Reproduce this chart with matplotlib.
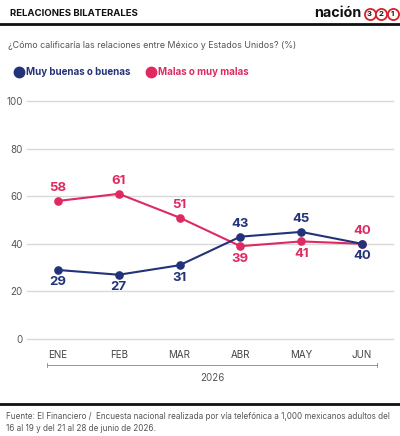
import matplotlib
matplotlib.use("Agg")
import matplotlib.pyplot as plt
from matplotlib.lines import Line2D

plt.rcParams['font.family'] = ['Inter', 'DejaVu Sans', 'Noto Sans CJK JP']

months = ["ENE", "FEB", "MAR", "ABR", "MAY", "JUN"]
buenas = [29, 27, 31, 43, 45, 40]
malas = [58, 61, 51, 39, 41, 40]
yticks = [0, 20, 40, 60, 80, 100]
# label above (+1) or below (-1)
buenas_pos = [-1, -1, -1, 1, 1, -1]
malas_pos = [1, 1, 1, -1, -1, 1]
logo_digits = ["3", "2", "1"]

NAVY = "#23337a"
PINK = "#df2a61"

fig = plt.figure(figsize=(4.0, 4.36), dpi=100)
W, H = 400, 436

def fy(py):
    return 1 - py / H

ax = fig.add_axes([27 / W, fy(339), (393 - 27) / W, (339 - 101) / H])
x = list(range(len(months)))
ax.set_xlim(-0.51, 5.51)
ax.set_ylim(0, 100)
for v in yticks:
    ax.axhline(v, color="#d9d9d9", lw=1.0, zorder=0, clip_on=False)
ax.plot(x, malas, color=PINK, lw=1.5, marker="o", ms=5.2, zorder=3, clip_on=False)
ax.plot(x, buenas, color=NAVY, lw=1.5, marker="o", ms=5.2, zorder=4, clip_on=False)

for xi, v, p in zip(x, malas, malas_pos):
    ax.annotate(str(v), (xi, v), xytext=(0, 9 * p), textcoords="offset points",
                ha="center", va="center", color=PINK, fontsize=9.5, fontweight="bold")
for xi, v, p in zip(x, buenas, buenas_pos):
    ax.annotate(str(v), (xi, v), xytext=(0, 9 * p), textcoords="offset points",
                ha="center", va="center", color=NAVY, fontsize=9.5, fontweight="bold")

for s in ax.spines.values():
    s.set_visible(False)
ax.set_yticks(yticks)
ax.set_yticklabels([str(v) for v in yticks], color="#555555", fontsize=7)
ax.set_xticks(x)
ax.set_xticklabels(months, color="#444444", fontsize=7)
ax.tick_params(axis="both", length=0)
ax.tick_params(axis="y", pad=3)
ax.tick_params(axis="x", pad=8)

# Header
fig.text(10 / W, fy(14), "RELACIONES BILATERALES", fontsize=6.9, fontweight="bold",
         va="center", ha="left", color="#111111")
fig.text(314 / W, fy(13), "nación", fontsize=10.3, fontweight="bold", va="center",
         ha="left", color="#111111")
for i, d in enumerate(logo_digits):
    cx = (369.5 + 11.5 * i) / W
    fig.add_artist(Line2D([cx], [fy(14)], marker="o", ms=8, markerfacecolor="white",
                          markeredgecolor="#d8202a", markeredgewidth=1.3, lw=0))
    fig.text(cx, fy(14), d, fontsize=5.5, fontweight="bold", ha="center", va="center",
             color="#111111")
fig.add_artist(Line2D([0, 1], [fy(24), fy(24)], color="#111111", lw=2.0))
fig.text(8 / W, fy(45), "¿Cómo calificaría las relaciones entre México y Estados Unidos? (%)",
         fontsize=6.4, va="center", ha="left", color="#555555")

# Legend
fig.add_artist(Line2D([19 / W], [fy(72)], marker="o", ms=7.5, color=NAVY, lw=0))
fig.text(26 / W, fy(72), "Muy buenas o buenas", fontsize=7, fontweight="bold",
         va="center", ha="left", color=NAVY)
fig.add_artist(Line2D([151 / W], [fy(72)], marker="o", ms=7.5, color=PINK, lw=0))
fig.text(158 / W, fy(72), "Malas o muy malas", fontsize=7, fontweight="bold",
         va="center", ha="left", color=PINK)

# Year bracket
fig.add_artist(Line2D([47 / W, 377 / W], [fy(365), fy(365)], color="#888888", lw=0.6))
fig.add_artist(Line2D([47 / W, 47 / W], [fy(363), fy(367)], color="#888888", lw=0.6))
fig.add_artist(Line2D([377 / W, 377 / W], [fy(363), fy(367)], color="#888888", lw=0.6))
fig.text(212 / W, fy(378), "2026", fontsize=7, va="center", ha="center", color="#555555")

# Footer
fig.add_artist(Line2D([0, 1], [fy(404), fy(404)], color="#111111", lw=2.0))
fig.text(6 / W, fy(416), "Fuente: El Financiero /  Encuesta nacional realizada por vía telefónica a 1,000 mexicanos adultos del",
         fontsize=5.85, va="center", ha="left", color="#555555")
fig.text(6 / W, fy(428), "16 al 19 y del 21 al 28 de junio de 2026.",
         fontsize=5.85, va="center", ha="left", color="#555555")

fig.savefig("out.png", dpi=100, facecolor="white")
